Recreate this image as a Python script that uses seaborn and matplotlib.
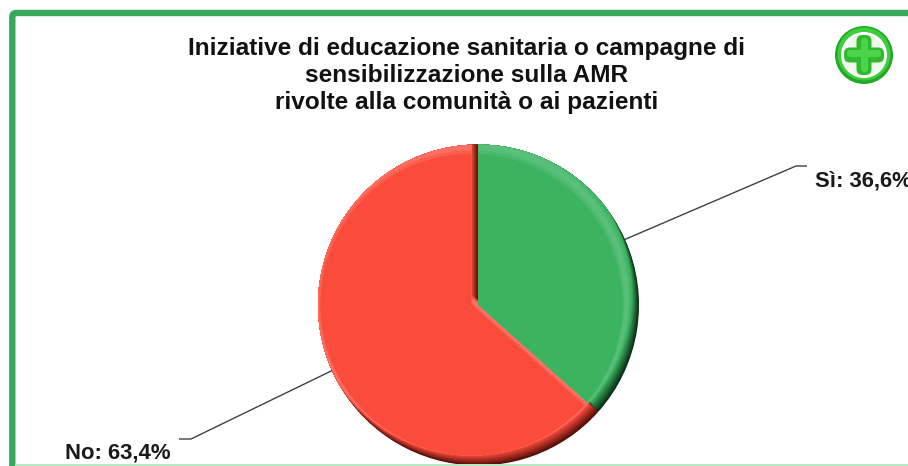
import numpy as np
import matplotlib
matplotlib.use('Agg')
import matplotlib.pyplot as plt
from matplotlib.patches import Circle, Rectangle, FancyBboxPatch
import seaborn as sns

# Data
categories = ['Sì', 'No']
values = [36.6, 63.4]
title_lines = ['Iniziative di educazione sanitaria o campagne di',
               'sensibilizzazione sulla AMR',
               'rivolte alla comunità o ai pazienti']

sns.set_theme(style='white')
plt.rcParams['font.family'] = ['Liberation Sans', 'DejaVu Sans']

W, H = 908, 466
main_colors = sns.color_palette(['#3cb35f', '#fb4b3b'])
dark_colors = sns.color_palette(['#0a3318', '#5a100a'])
light_colors = sns.color_palette(['#62c382', '#fd7d70'])

# axes in pixel units, y going up
fig = plt.figure(figsize=(W / 100, H / 100), dpi=100)
ax = fig.add_axes([0, 0, 1, 1])
cx, cy, r = 478.5, H - 305, 160.5


def draw_pie(colors, dx=0, dy=0, radius=r, clip=None):
    wedges, _ = ax.pie(values, colors=colors, startangle=90, counterclock=False,
                       center=(cx + dx, cy + dy), radius=radius,
                       wedgeprops={'linewidth': 0})
    if clip is not None:
        for w, c in zip(wedges, clip):
            w.set_clip_on(True)
            w.set_clip_path(c)
    return wedges


def mix(a, b, t):
    return [tuple((1 - t) * np.array(p) + t * np.array(q)) for p, q in zip(a, b)]


# bevel: dark base, then layers shifted further and further, going lighter
base = draw_pie(dark_colors)
for t in np.linspace(0, 1, 12):
    draw_pie(mix(dark_colors, main_colors, t), dx=-(0.5 + 6.5 * t), dy=0.5 + 9.5 * t, clip=base)
# highlight band near the top, then the flat colour inside it
for t in np.linspace(0, 1, 7):
    draw_pie(mix(main_colors, light_colors, np.sin(t * np.pi) * 0.8), dx=-7, dy=10 - 9.5 * t,
             radius=r - 9.5 * t, clip=base)

ax.set_xlim(0, W)
ax.set_ylim(0, H)
ax.set_aspect('auto')
ax.axis('off')

# leader lines and labels, going out from the middle of each slice
angles = np.radians(90 - (np.cumsum(values) - np.array(values) / 2) * 3.6)
elbows = [(796, H - 166), (191, H - 439)]
stub_ends = [807, 179]
label_spots = [(815, H - 187, 'left'), (171, H - 459, 'right')]
for i, cat in enumerate(categories):
    x0, y0 = cx + r * np.cos(angles[i]), cy + r * np.sin(angles[i])
    x1, y1 = elbows[i]
    ax.plot([x0, x1, stub_ends[i]], [y0, y1, y1], color='#404040', lw=1.0, solid_capstyle='butt')
    lx, ly, ha = label_spots[i]
    ax.text(lx, ly, f'{cat}: {values[i]:.1f}%'.replace('.', ','), ha=ha, va='baseline',
            fontsize=15.9, fontweight='bold', color='#1a1a1a')

# title
for i, line in enumerate(title_lines):
    ax.text(467, H - (55 + 27 * i), line, ha='center', va='baseline', fontsize=17.6,
            fontweight='bold', color='#111111')

# green frame
frame_color = '#37a95a'
ax.add_patch(FancyBboxPatch((12.3, -20), W + 20, H - 13 + 20, boxstyle='round,pad=0,rounding_size=4',
                            fc='none', ec=frame_color, lw=4.6, zorder=5))
ax.add_patch(Rectangle((15, 0), W, 2, fc='#b5e8c4', ec='none', zorder=5))

# plus icon
ic_x, ic_y = 864, H - 55
ax.add_patch(Circle((ic_x, ic_y), 29, fc='#25a825', ec='none', zorder=6))
ax.add_patch(Circle((ic_x, ic_y + 1), 26.5, fc='#3ccf3c', ec='none', zorder=6))
ax.add_patch(Circle((ic_x, ic_y), 23, fc='white', ec='none', zorder=6))
ax.add_patch(Circle((ic_x, ic_y), 20.5, fc='#eef9ea', ec='none', zorder=6))
for (bx, by, bw, bh) in [(-20, -7.5, 40, 15), (-7.5, -20, 15, 40)]:
    ax.add_patch(FancyBboxPatch((ic_x + bx, ic_y + by), bw, bh, boxstyle='round,pad=0,rounding_size=6',
                                fc='#2dbb2d', ec='none', zorder=7))
for (bx, by, bw, bh) in [(-17, -2, 34, 7), (-3, -17, 7, 34)]:
    ax.add_patch(FancyBboxPatch((ic_x + bx, ic_y + by), bw, bh, boxstyle='round,pad=0,rounding_size=3',
                                fc='#4cd548', ec='none', zorder=7))

fig.savefig('out.png', dpi=100)
